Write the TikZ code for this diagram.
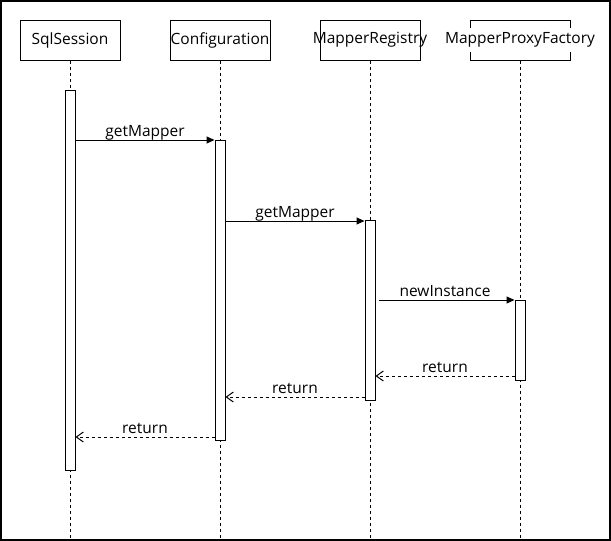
\documentclass[tikz,border=0pt]{standalone}
\usepackage{fontspec}
\setmainfont{Open Sans}
\usetikzlibrary{arrows.meta,calc}
\begin{document}
\begin{tikzpicture}[x=1pt,y=-1pt,
  every node/.style={font=\fontsize{15.5}{18}\selectfont},
  lifebox/.style={draw,line width=1pt,minimum width=100pt,minimum height=40pt,inner sep=0pt},
  lifeline/.style={line width=1pt,dash pattern=on 3pt off 3pt},
  actbar/.style={draw,line width=1pt,fill=white,minimum width=10pt,inner sep=0pt},
  callmsg/.style={line width=1pt,-{Triangle[length=8pt,width=7pt]}},
  retmsg/.style={line width=1pt,dash pattern=on 3pt off 3pt,-{Straight Barb[length=7pt,width=10pt]}},
  msglabel/.style={above,inner sep=1pt,text depth=0.25em}]
\useasboundingbox (0,0) rectangle (611,541);
\draw[line width=1.5pt] (0.75,0.75) rectangle (609.75,539.75);

% lifeline heads
\node[lifebox] (ss) at (70,40) {};
\node[lifebox] (cf) at (220,40) {};
\node[lifebox] (mr) at (370,40) {};
\node[lifebox] (mpf) at (520,40) {};

% lifeline ends
\coordinate (ssend) at (70,540);
\coordinate (cfend) at (220,540);
\coordinate (mrend) at (370,540);
\coordinate (mpfend) at (520,540);

\draw[lifeline] (ss.south) -- (ssend);
\draw[lifeline] (cf.south) -- (cfend);
\draw[lifeline] (mr.south) -- (mrend);
\draw[lifeline] (mpf.south) -- (mpfend);

% head labels
\node[inner sep=0pt] (sst) at (ss.center) {SqlSession};
\node[inner sep=0pt] (cft) at (cf.center) {Configuration};
\node[inner sep=0pt] (mrt) at (mr.center) {MapperRegistry};
\node[fill=white,inner xsep=0pt,inner ysep=5pt] (mpft) at (mpf.center) {MapperProxyFactory};

% activation bars
\node[actbar,minimum height=380pt] (a1) at (70,280) {};
\node[actbar,minimum height=300pt] (a2) at (220,290) {};
\node[actbar,minimum height=180pt] (a3) at (370,310) {};
\node[actbar,minimum height=80pt] (a4) at (520,340) {};

% message heights
\coordinate (y1) at (0,140);
\coordinate (y2) at (0,221);
\coordinate (y3) at (0,300);
\coordinate (y4) at (0,376);
\coordinate (y5) at (0,397);
\coordinate (y6) at (0,437);

\draw[callmsg] (a1.east |- y1) -- node[msglabel] {getMapper} (a2.west |- y1);
\draw[callmsg] (a2.east |- y2) -- node[msglabel] {getMapper} (a3.west |- y2);
\draw[callmsg,shorten <=3pt] (a3.east |- y3) -- node[msglabel] {newInstance} (a4.west |- y3);
\draw[retmsg] (a4.west |- y4) -- node[msglabel] {return} (a3.east |- y4);
\draw[retmsg] (a3.west |- y5) -- node[msglabel] {return} (a2.east |- y5);
\draw[retmsg] (a2.west |- y6) -- node[msglabel] {return} (a1.east |- y6);
\end{tikzpicture}
\end{document}
